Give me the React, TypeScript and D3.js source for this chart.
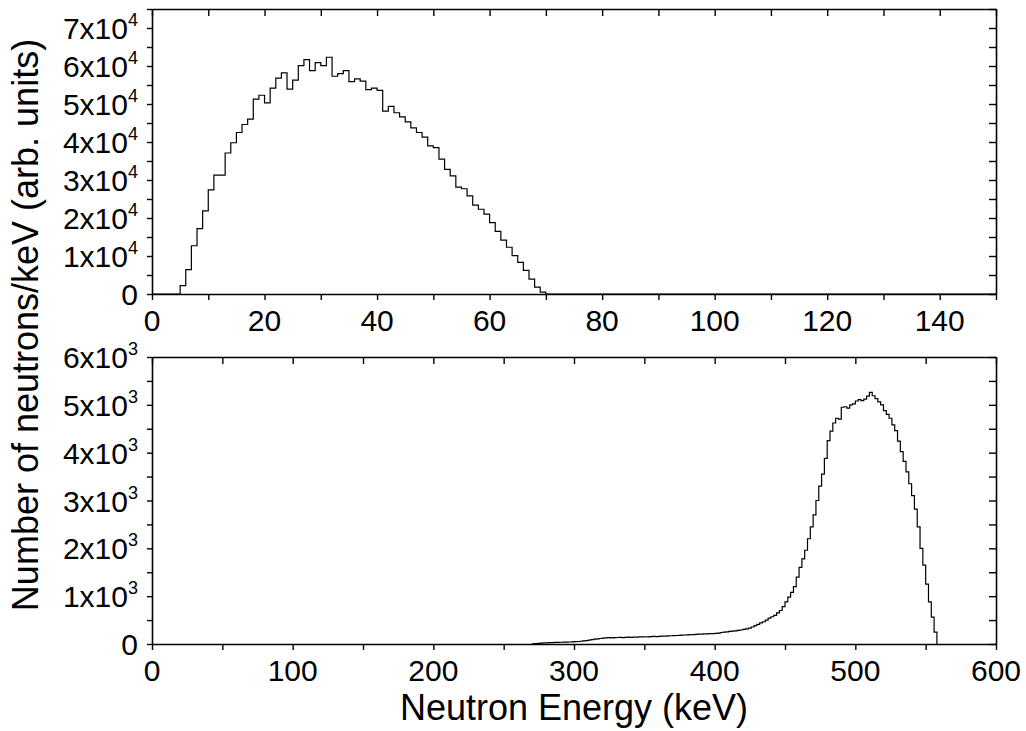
import React, { useEffect, useRef } from 'react';
import * as d3 from 'd3';

// top panel: 1 keV bins starting at 5 keV
const topBinStart = 5;
const topBinWidth = 1;
const topCounts = [
  2200, 6400, 12700, 17200, 21900, 27400, 31300, 31300, 37100, 39800,
  42500, 44600, 46000, 51300, 52300, 50300, 54200, 56800, 58200, 53900,
  56300, 60100, 61700, 58800, 60900, 60100, 62300, 57300, 58000, 58800,
  55900, 56600, 56000, 53800, 54200, 53600, 48100, 49400, 47700, 46600,
  45300, 43700, 42500, 41300, 39000, 38500, 35500, 32800, 31100, 28100,
  27700, 25800, 23400, 22300, 21000, 18800, 16500, 14200, 12300, 10100,
  8300, 6200, 3900, 1800, 500, 0,
];

// bottom panel: 2 keV bins starting at 270 keV
const bottomBinStart = 270;
const bottomBinWidth = 2;
const bottomCounts = [
  5, 10, 15, 18, 22, 25, 28, 30, 33, 35,
  37, 38, 40, 42, 45, 48, 52, 58, 65, 72,
  80, 90, 100, 108, 115, 122, 128, 132, 130, 135,
  136, 138, 135, 140, 142, 140, 145, 143, 148, 150,
  152, 150, 155, 158, 156, 160, 163, 165, 168, 172,
  175, 178, 182, 185, 188, 192, 195, 198, 200, 205,
  208, 210, 212, 215, 218, 222, 228, 240, 248, 255,
  262, 268, 275, 285, 293, 305, 318, 330, 355, 385,
  410, 440, 465, 500, 540, 570, 600, 650, 700, 780,
  880, 980, 1080, 1200, 1400, 1600, 1780, 1960, 2200, 2450,
  2700, 3000, 3300, 3550, 3880, 4250, 4450, 4620, 4720, 4700,
  4950, 4960, 4930, 5000, 5020, 5080, 5110, 5090, 5120, 5180,
  5260, 5190, 5130, 5060, 5000, 4880, 4800, 4720, 4580, 4460,
  4240, 4020, 3820, 3600, 3350, 3100, 2820, 2450, 2000, 1650,
  1250, 880, 560, 250, 0,
];

const topXTicks = [0, 20, 40, 60, 80, 100, 120, 140];
const topYTicks = [0, 1, 2, 3, 4, 5, 6, 7]; // x10^4
const bottomXTicks = [0, 100, 200, 300, 400, 500, 600];
const bottomYTicks = [0, 1, 2, 3, 4, 5, 6]; // x10^3

const xTitle = 'Neutron Energy (keV)';
const yTitle = 'Number of neutrons/keV (arb. units)';

const FONT = "'Liberation Sans', Arial, sans-serif";
const W = 1026;
const H = 731;
const LEFT = 152;
const RIGHT = 996;

type Panel = {
  top: number;
  bottom: number;
  xMax: number;
  yMax: number;
  xTicks: number[];
  xMinor: number;
  yTicks: number[];
  exp: number;
  start: number;
  width: number;
  counts: number[];
  padLeft: boolean;
};

const drawPanel = (svg: d3.Selection<SVGSVGElement, unknown, null, undefined>, p: Panel) => {
  const x = d3.scaleLinear().domain([0, p.xMax]).range([LEFT, RIGHT]);
  const y = d3.scaleLinear().domain([0, p.yMax]).range([p.bottom, p.top]);
  const unit = Math.pow(10, p.exp);
  const g = svg.append('g');

  // histogram drawn as steps
  const pts: [number, number][] = p.counts.map((c, i) => [p.start + i * p.width, c]);
  if (p.padLeft) {
    pts.unshift([0, 0]);
    pts.push([p.xMax, 0]);
  }
  const line = d3.line<[number, number]>()
    .x(d => x(d[0]))
    .y(d => y(d[1]))
    .curve(d3.curveStepAfter);
  g.append('path')
    .datum(pts)
    .attr('d', line)
    .attr('fill', 'none')
    .attr('stroke', '#000')
    .attr('stroke-width', 1.2);

  const xMinorTicks = d3.range(0, p.xMax + 1e-9, p.xMinor);
  const yMinorTicks = d3.range(0, p.yMax + 1e-9, unit / 2);

  // bottom (outward) and top (inward)
  g.append('g')
    .attr('transform', `translate(0,${p.bottom})`)
    .call(d3.axisBottom(x).tickValues(xMinorTicks).tickSizeInner(6).tickSizeOuter(0).tickFormat(() => ''));
  g.append('g')
    .attr('transform', `translate(0,${p.top})`)
    .call(d3.axisTop(x).tickValues(xMinorTicks).tickSizeInner(-7).tickSizeOuter(0).tickFormat(() => ''));
  // left (outward) and right (inward)
  g.append('g')
    .attr('transform', `translate(${LEFT},0)`)
    .call(d3.axisLeft(y).tickValues(yMinorTicks).tickSizeInner(5).tickSizeOuter(0).tickFormat(() => ''));
  g.append('g')
    .attr('transform', `translate(${RIGHT},0)`)
    .call(d3.axisRight(y).tickValues(yMinorTicks).tickSizeInner(-7).tickSizeOuter(0).tickFormat(() => ''));

  g.selectAll('.domain').attr('stroke', '#000').attr('stroke-width', 1.6);
  g.selectAll('.tick line').attr('stroke', '#000').attr('stroke-width', 1.4);

  // x labels
  p.xTicks.forEach(t => {
    g.append('text')
      .attr('x', x(t))
      .attr('y', p.bottom + 37)
      .attr('text-anchor', 'middle')
      .attr('font-family', FONT)
      .attr('font-size', 30)
      .attr('fill', '#000')
      .text(String(t));
  });

  // y labels with superscript exponents
  p.yTicks.forEach(t => {
    const txt = g.append('text')
      .attr('x', LEFT - 14)
      .attr('y', y(t * unit) + 11)
      .attr('text-anchor', 'end')
      .attr('font-family', FONT)
      .attr('font-size', 30)
      .attr('fill', '#000');
    if (t === 0) {
      txt.text('0');
    } else {
      txt.append('tspan').text(`${t}x10`);
      txt.append('tspan').attr('dy', -13).attr('font-size', 18).text(String(p.exp));
    }
  });
};

const App = () => {
  const ref = useRef<SVGSVGElement>(null);

  useEffect(() => {
    if (!ref.current) return;
    const svg = d3.select(ref.current);
    svg.selectAll('*').remove();

    svg.append('rect').attr('width', W).attr('height', H).attr('fill', '#fff');

    drawPanel(svg, {
      top: 9, bottom: 294, xMax: 150, yMax: 75000,
      xTicks: topXTicks, xMinor: 10, yTicks: topYTicks, exp: 4,
      start: topBinStart, width: topBinWidth, counts: topCounts, padLeft: true,
    });
    drawPanel(svg, {
      top: 357, bottom: 644, xMax: 600, yMax: 6000,
      xTicks: bottomXTicks, xMinor: 50, yTicks: bottomYTicks, exp: 3,
      start: bottomBinStart, width: bottomBinWidth, counts: bottomCounts, padLeft: false,
    });

    svg.append('text')
      .attr('x', (LEFT + RIGHT) / 2)
      .attr('y', 720)
      .attr('text-anchor', 'middle')
      .attr('font-family', FONT)
      .attr('font-size', 36)
      .attr('fill', '#000')
      .text(xTitle);

    svg.append('text')
      .attr('transform', 'translate(38,325) rotate(-90)')
      .attr('text-anchor', 'middle')
      .attr('font-family', FONT)
      .attr('font-size', 36)
      .attr('fill', '#000')
      .text(yTitle);
  }, []);

  return (
    <svg
      ref={ref}
      width={W}
      height={H}
      style={{ position: 'absolute', left: 0, top: 0, display: 'block' }}
    />
  );
};

export default App;
